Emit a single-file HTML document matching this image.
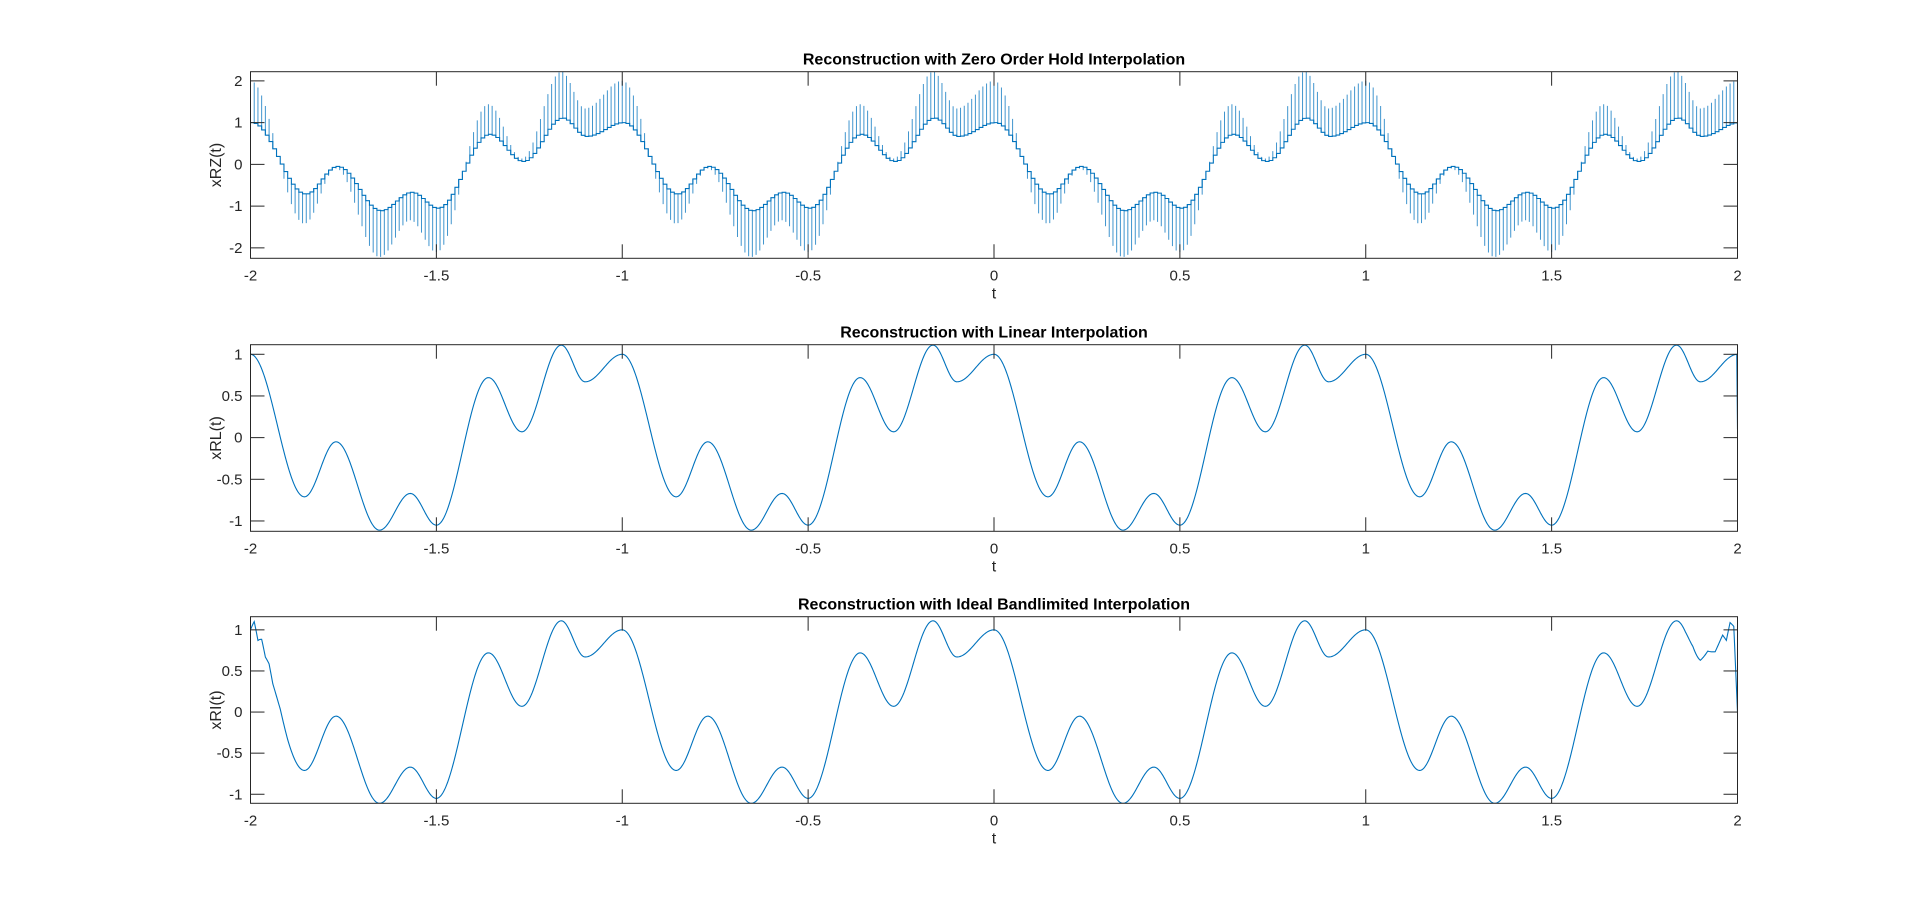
<!DOCTYPE html>
<html><head><meta charset="utf-8"><style>
html,body{margin:0;padding:0;background:#fff;}
svg{display:block;font-family:"Liberation Sans",Arial,sans-serif;}
</style></head><body>
<svg id="fig" width="1920" height="911" viewBox="0 0 1920 911" xmlns="http://www.w3.org/2000/svg"></svg>
<script>
// One period of the signal, read from the extrema (t mod 1, value)
const periodTimes  = [0, 0.145, 0.23, 0.347, 0.43, 0.5, 0.64, 0.73, 0.836, 0.9, 1.0];
const periodValues = [1.0, -0.71, -0.05, -1.11, -0.67, -1.05, 0.72, 0.07, 1.11, 0.67, 1.0];
// Edge ripple of the bandlimited reconstruction (offsets read near ends)
const rippleLeftT  = [-2, -1.99, -1.98, -1.97, -1.96, -1.95, -1.94, -1.92, -1.9];
const rippleLeftV  = [0, 0.12, -0.05, 0.06, -0.03, 0.04, -0.03, 0.03, 0];
const rippleRightT = [1.86, 1.88, 1.9, 1.92, 1.94, 1.96, 1.97, 1.98, 1.99, 2.0];
const rippleRightV = [0, 0.03, -0.04, 0.04, -0.05, 0.05, -0.06, 0.12, 0.05, -1.0];
const xTicks = [-2, -1.5, -1, -0.5, 0, 0.5, 1, 1.5, 2];
const xTickLabels = ["-2","-1.5","-1","-0.5","0","0.5","1","1.5","2"];
const panelTitles = ["Reconstruction with Zero Order Hold Interpolation","Reconstruction with Linear Interpolation","Reconstruction with Ideal Bandlimited Interpolation"];
const panelYLabels = ["xRZ(t)","xRL(t)","xRI(t)"];
const yTicks1 = [-2,-1,0,1,2];
const yTicks1Labels = ["-2","-1","0","1","2"];
const yTicks23 = [-1,-0.5,0,0.5,1];
const yTicks23Labels = ["-1","-0.5","0","0.5","1"];
const yLims = [[-2.25,2.22],[-1.124,1.115],[-1.11,1.16]];
const sampleStep = 0.01;

const NS="http://www.w3.org/2000/svg";
const svg=document.getElementById('fig');
const C="#0072BD", AX="#262626";
const L=250.5, R=1737.5;
const panels=[{top:71.7,bot:258.3},{top:344.7,bot:531.3},{top:616.7,bot:803.3}];

function mk(tag,attrs,parent){const e=document.createElementNS(NS,tag);for(const k in attrs)e.setAttribute(k,attrs[k]);(parent||svg).appendChild(e);return e;}
function sig(t){
  let u=t-Math.floor(t);
  for(let i=0;i<periodTimes.length-1;i++){
    if(u>=periodTimes[i]&&u<=periodTimes[i+1]){
      const f=(u-periodTimes[i])/(periodTimes[i+1]-periodTimes[i]);
      const w=(1-Math.cos(Math.PI*f))/2;
      return periodValues[i]*(1-w)+periodValues[i+1]*w;
    }
  }
  return periodValues[0];
}
function interpArr(T,V,t){
  if(t<T[0]||t>T[T.length-1])return 0;
  for(let i=0;i<T.length-1;i++){if(t>=T[i]&&t<=T[i+1]){const f=(t-T[i])/(T[i+1]-T[i]);return V[i]*(1-f)+V[i+1]*f;}}
  return V[V.length-1];
}
function xs(t){return L+(t+2)/4*(R-L);}

panels.forEach((p,k)=>{
  const g=mk('g',{});
  
  
  const [y0,y1]=yLims[k];
  const ys=v=>p.bot-(v-y0)/(y1-y0)*(p.bot-p.top);
  const clipId='clip'+k;
  const cp=mk('clipPath',{id:clipId},g);
  mk('rect',{x:L,y:p.top,width:R-L,height:p.bot-p.top},cp);
  // series
  let d='';
  if(k===0){
    const n=Math.round(4/sampleStep);
    let sp='';
    for(let i=0;i<=n;i++){
      const t=-2+i*sampleStep;
      const v=(i===n)?0:sig(t);
      const X=xs(t),Y=ys(v);
      if(i===0)d+='M'+X.toFixed(2)+' '+Y.toFixed(2);
      else d+='V'+Y.toFixed(2);
      if(i<n){d+='H'+xs(t+sampleStep).toFixed(2);
        sp+='M'+X.toFixed(2)+' '+Y.toFixed(2)+'V'+ys(2*v).toFixed(2);}
    }
    const s=mk('path',{d:sp,stroke:C,'stroke-width':1,fill:'none','stroke-opacity':0.75,'clip-path':'url(#'+clipId+')'},g);
    
    
  } else {
    const n=2000;
    for(let i=0;i<=n;i++){
      const t=-2+4*i/n;
      let v=sig(t);
      if(k===1&&i===n)v=0.1;
      if(k===2)v+=interpArr(rippleLeftT,rippleLeftV,t)+interpArr(rippleRightT,rippleRightV,t);
      d+=(i?'L':'M')+xs(t).toFixed(2)+' '+ys(v).toFixed(2);
    }
  }
  const ln=mk('path',{d:d,stroke:C,'stroke-width':1.1,fill:'none','clip-path':'url(#'+clipId+')'},g);
  
  
  // box
  const box=mk('rect',{x:L,y:p.top,width:R-L,height:p.bot-p.top,fill:'none',stroke:AX,'stroke-width':1},g);
  
  
  // x ticks
  xTicks.forEach((t,i)=>{
    const X=xs(t);
    mk('line',{x1:X,x2:X,y1:p.bot,y2:p.bot-14,stroke:AX,'stroke-width':1},g);
    mk('line',{x1:X,x2:X,y1:p.top,y2:p.top+14,stroke:AX,'stroke-width':1},g);
    const tx=mk('text',{x:X,y:p.bot+22,'text-anchor':'middle','font-size':15,fill:AX},g);
    tx.textContent=xTickLabels[i];
    
    
  });
  const yt=k===0?yTicks1:yTicks23, ytl=k===0?yTicks1Labels:yTicks23Labels;
  yt.forEach((v,i)=>{
    const Y=ys(v);
    mk('line',{x1:L,x2:L+14,y1:Y,y2:Y,stroke:AX,'stroke-width':1},g);
    mk('line',{x1:R,x2:R-14,y1:Y,y2:Y,stroke:AX,'stroke-width':1},g);
    const tx=mk('text',{x:L-8,y:Y+5,'text-anchor':'end','font-size':15,fill:AX},g);
    tx.textContent=ytl[i];
    
    
  });
  const xl=mk('text',{x:(L+R)/2,y:p.bot+40,'text-anchor':'middle','font-size':16,fill:AX},g);
  xl.textContent='t';
  
  
  const cy=(p.top+p.bot)/2;
  const yl=mk('text',{x:221,y:cy,'text-anchor':'middle','font-size':16,fill:AX,transform:'rotate(-90 221 '+cy+')'},g);
  yl.textContent=panelYLabels[k];
  
  
  const ti=mk('text',{x:(L+R)/2,y:p.top-7,'text-anchor':'middle','font-size':16,'font-weight':'bold',fill:'#000'},g);
  ti.textContent=panelTitles[k];
  
  
});
</script>
</body></html>
